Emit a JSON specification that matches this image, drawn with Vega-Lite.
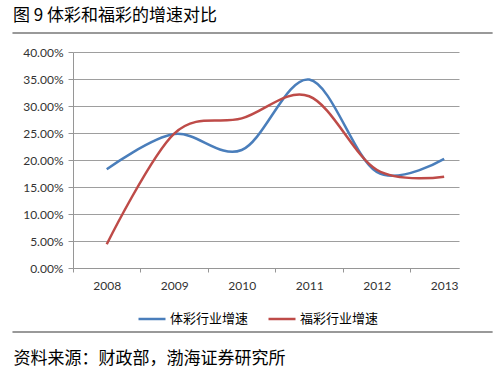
{
  "$schema": "https://vega.github.io/schema/vega-lite/v6.json",
  "width": 386,
  "height": 216,
  "autosize": {"type": "none"},
  "padding": {"left": 73, "top": 52, "right": 41, "bottom": 111},
  "background": "white",
  "title": {
    "text": "图 9 体彩和福彩的增速对比",
    "anchor": "start",
    "frame": "group",
    "dx": -60,
    "dy": 5,
    "offset": 12,
    "font": "Noto Sans CJK SC",
    "fontSize": 17,
    "fontWeight": "normal",
    "color": "#000000"
  },
  "config": {"view": {"stroke": null}},
  "resolve": {"axis": {"x": "independent", "y": "independent"}},
  "data": {
    "values": [
      {"year": 2008, "series": "体彩行业增速", "value": 0.183},
      {"year": 2009, "series": "体彩行业增速", "value": 0.248},
      {"year": 2010, "series": "体彩行业增速", "value": 0.2185},
      {"year": 2011, "series": "体彩行业增速", "value": 0.349},
      {"year": 2012, "series": "体彩行业增速", "value": 0.178},
      {"year": 2013, "series": "体彩行业增速", "value": 0.202},
      {"year": 2008, "series": "福彩行业增速", "value": 0.044},
      {"year": 2009, "series": "福彩行业增速", "value": 0.249},
      {"year": 2010, "series": "福彩行业增速", "value": 0.277},
      {"year": 2011, "series": "福彩行业增速", "value": 0.318},
      {"year": 2012, "series": "福彩行业增速", "value": 0.182},
      {"year": 2013, "series": "福彩行业增速", "value": 0.169}
    ]
  },
  "layer": [
    {
      "mark": {"type": "line", "interpolate": "cardinal", "strokeWidth": 2.5},
      "encoding": {
        "x": {
          "field": "year",
          "type": "quantitative",
          "scale": {"domain": [2007.5, 2013.22], "nice": false, "zero": false},
          "axis": {
            "orient": "bottom",
            "values": [2008, 2009, 2010, 2011, 2012, 2013],
            "format": "d",
            "grid": false,
            "tickOffset": -33.74,
            "labelOffset": 33.74,
            "tickSize": 4,
            "tickColor": "#969696",
            "domainColor": "#969696",
            "labelPadding": 8,
            "labelFont": "Lato",
            "labelFontSize": 12,
            "labelColor": "#333333",
            "title": "资料来源：财政部，渤海证券研究所",
            "titleAnchor": "start",
            "titleAlign": "left",
            "titleX": -60,
            "titleY": 90,
            "titleBaseline": "middle",
            "titleFont": "Noto Sans CJK SC",
            "titleFontSize": 17,
            "titleFontWeight": "normal",
            "titleColor": "#000000"
          }
        },
        "y": {
          "field": "value",
          "type": "quantitative",
          "scale": {"domain": [0, 0.4], "nice": false},
          "axis": {
            "orient": "left",
            "values": [0, 0.05, 0.1, 0.15, 0.2, 0.25, 0.3, 0.35, 0.4],
            "format": ".2%",
            "title": null,
            "tickSize": 5,
            "labelPadding": 5,
            "labelFont": "Lato",
            "labelFontSize": 12,
            "labelColor": "#333333",
            "gridColor": "#9e9e9e",
            "tickColor": "#969696",
            "domainColor": "#969696"
          }
        },
        "color": {
          "field": "series",
          "type": "nominal",
          "scale": {"domain": ["体彩行业增速", "福彩行业增速"], "range": ["#4A7EBB", "#BE4B48"]},
          "legend": {
            "orient": "none",
            "legendX": 64,
            "legendY": 252,
            "direction": "horizontal",
            "title": null,
            "symbolType": "stroke",
            "symbolSize": 729,
            "symbolStrokeWidth": 2.5,
            "labelFont": "Noto Sans CJK SC",
            "labelFontSize": 13,
            "labelColor": "#000000",
            "labelOffset": 3,
            "columnPadding": 14
          }
        }
      }
    },
    {
      "mark": {"type": "rule", "color": "#999999", "strokeWidth": 2},
      "encoding": {
        "x": {"datum": 2006.61, "type": "quantitative", "axis": null},
        "x2": {"datum": 2013.71},
        "y": {"datum": 0.435, "type": "quantitative", "axis": null}
      }
    },
    {
      "mark": {"type": "rule", "color": "#999999", "strokeWidth": 2},
      "encoding": {
        "x": {"datum": 2006.61, "type": "quantitative", "axis": null},
        "x2": {"datum": 2013.71},
        "y": {"datum": -0.1185, "type": "quantitative", "axis": null}
      }
    }
  ]
}
